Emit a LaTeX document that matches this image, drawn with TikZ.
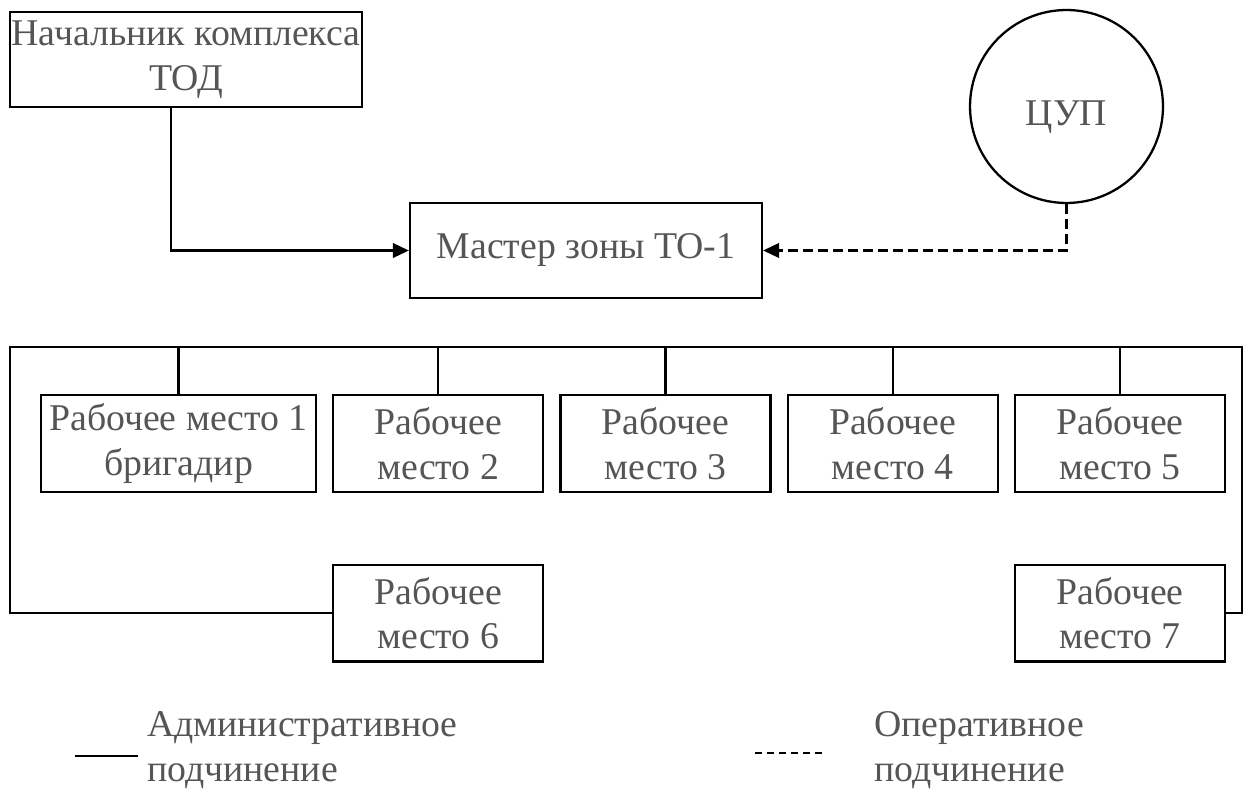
\documentclass[tikz,border=0pt]{standalone}
\usepackage{fontspec}
\setmainfont{Liberation Serif}
\usetikzlibrary{arrows.meta,positioning}
\definecolor{txtgray}{HTML}{555555}

\tikzset{
  unit/.style={draw, line width=1.3pt, text=txtgray, align=center, inner sep=1pt,
               minimum width=4.2cm, minimum height=1.93cm},
  legtext/.style={text=txtgray, align=left, anchor=west, inner sep=0pt},
  oplink/.style={dash pattern=on 0.2cm off 0.1cm}
}

\begin{document}
\begin{tikzpicture}[x=0.02cm,y=-0.02cm,>={Triangle[length=0.32cm,width=0.29cm]},
    line width=1.3pt,node distance=0.3cm,font=\fontsize{21.5pt}{25.5pt}\selectfont]

            \useasboundingbox (0,0) rectangle (1247,790);

            % top level
            \node[unit, minimum width=7.04cm, minimum height=1.9cm] (chief) at (186,59.5) {Начальник комплекса\\ТОД};

            \node[unit, minimum width=7.04cm, minimum height=1.9cm] (master) at (586,250.5) {Мастер зоны ТО-1};

            \node[draw, circle, minimum size=3.86cm, inner sep=0pt, text=txtgray,
                  text height=0.86cm, text depth=0.1cm] (cup) at (1066.5,106.5) {ЦУП};

            % work places
            \node[unit, minimum width=5.5cm] (wp1) at (178.5,443.5) {Рабочее место 1\\бригадир};

            \node[unit] (wp2) [right=of wp1] {Рабочее\\место 2};

            \node[unit] (wp3) [right=of wp2] {Рабочее\\место 3};

            \node[unit] (wp4) [right=of wp3] {Рабочее\\место 4};

            \node[unit] (wp5) [right=of wp4] {Рабочее\\место 5};

            \node[unit] (wp6) [below=1.42cm of wp2] {Рабочее\\место 6};

            \node[unit] (wp7) [below=1.42cm of wp5] {Рабочее\\место 7};

            \coordinate (busL) at (10,347);

            \coordinate (busR) at (1242,347);

            

            \draw[->] ([xshift=-0.3cm]chief.south) |- (master.west);

            \draw[->, oplink] (cup.south) |- (master.east);

            \draw (wp6.west) -| (busL) -- (busR) |- (wp7.east);

            \foreach \i in {1,...,5}
                \draw (wp\i.north) -- (wp\i.north |- busL);

            % legend
            \node[legtext] (admin) at (146,750) {Административное\\подчинение};

            \node[legtext] (oper) at (873,750) {Оперативное\\подчинение};

            \coordinate (solidL) at (75,756);

            \coordinate (solidR) at (138,756);

            \coordinate (dashL) at (755,753);

            \coordinate (dashR) at (822,753);

            \draw (solidL) -- (solidR);

            \draw[dash pattern=on 0.14cm off 0.1cm] (dashL) -- (dashR);

        \end{tikzpicture}
\end{document}
